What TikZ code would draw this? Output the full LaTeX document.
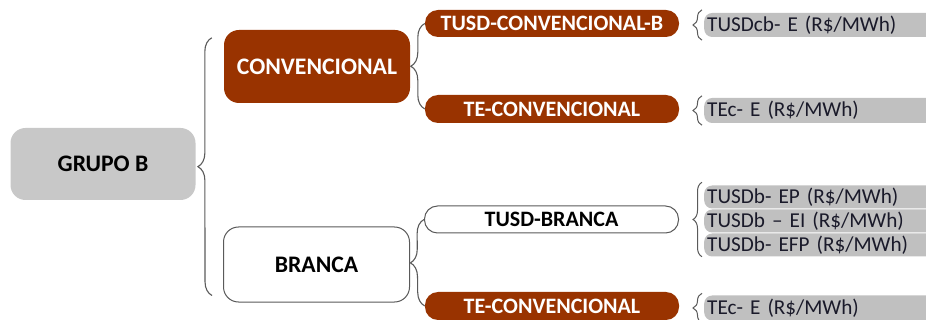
\documentclass[tikz,border=0pt]{standalone}
\usepackage{fontspec}
\setmainfont{Carlito}
\usetikzlibrary{decorations.pathreplacing}
\definecolor{brown1}{HTML}{993300}
\definecolor{gray1}{HTML}{C8C8C8}
\definecolor{gray2}{HTML}{C0C0C0}
\definecolor{line1}{HTML}{5A5A5A}
\definecolor{txt1}{HTML}{1A1A2A}
\tikzset{
  bigbox/.style={rounded corners=15pt, minimum width=186pt, minimum height=73pt, inner sep=0pt, font=\fontsize{23.7}{25}\selectfont\bfseries},
  pill/.style={rounded corners=13pt, minimum width=254pt, minimum height=27pt, inner sep=0pt, font=\fontsize{22}{24}\selectfont\bfseries},
  brownfill/.style={fill=brown1, text=white},
  whitefill/.style={fill=white, draw=line1, line width=1pt, text=black},
  leaf/.style={fill=gray2, rounded corners=8pt, minimum width=240pt, minimum height=23pt, inner sep=0pt, anchor=west, text width=234pt, align=left, text=txt1, font=\fontsize{21.2}{22}\selectfont},
  bigbrace/.style={decorate, decoration={brace, amplitude=14pt}, draw=line1, line width=1.1pt},
  smallbrace/.style={decorate, decoration={brace, amplitude=9pt}, draw=line1, line width=1pt},
}
\begin{document}
\begin{tikzpicture}[x=1pt, y=-1pt]
\useasboundingbox (0,0) rectangle (926,320);
\clip (0,0) rectangle (926,320);
% level 0
\node[bigbox, fill=gray1, minimum width=185pt, minimum height=72pt, text=black] (grupo) at (103,164) {GRUPO B};
% level 1
\node[bigbox, brownfill] (conv) at (317,66.5) {CONVENCIONAL};
\node[bigbox, whitefill, minimum height=75pt] (branca) at (316.5,264.5) {BRANCA};
% level 2
\node[pill, brownfill] (tusdcb) at (552,23.5) {TUSD-CONVENCIONAL-B};
\node[pill, brownfill, minimum height=28pt] (tec1) at (552,109) {TE-CONVENCIONAL};
\node[pill, whitefill] (tusdb) at (551.5,219.5) {TUSD-BRANCA};
\node[pill, brownfill, minimum height=28pt] (tec2) at (552,306) {TE-CONVENCIONAL};
% level 3
\node[leaf, minimum height=24pt] (g1) at (704,25) {TUSDcb- E (R\$/MWh)};
\node[leaf, minimum height=25pt] (g2) at (704,110.5) {TEc- E (R\$/MWh)};
\node[leaf] (g3) at (704,197) {TUSDb- EP (R\$/MWh)};
\node[leaf] (g4) at (704,221) {TUSDb -- EI (R\$/MWh)};
\node[leaf] (g5) at (704,245) {TUSDb- EFP (R\$/MWh)};
\node[leaf, minimum height=25pt] (g6) at (704,308) {TEc- E (R\$/MWh)};
% braces
\draw[bigbrace] ([shift={(-11pt,7pt)}]branca.south west) -- ([shift={(-12pt,-8pt)}]conv.north west);
\draw[bigbrace] (tec1.west) -- (tusdcb.west);
\draw[bigbrace] (tec2.west) -- (tusdb.west);
\draw[smallbrace] ([shift={(-2pt,-3pt)}]g1.south west) -- ([shift={(-2pt,3pt)}]g1.north west);
\draw[smallbrace] ([shift={(-2pt,-2pt)}]g2.south west) -- ([shift={(-2pt,2pt)}]g2.north west);
\draw[smallbrace] ([shift={(-2pt,0pt)}]g5.south west) -- ([shift={(-2pt,3pt)}]g3.north west);
\draw[smallbrace] ([shift={(-2pt,-2pt)}]g6.south west) -- ([shift={(-2pt,2pt)}]g6.north west);
\end{tikzpicture}
\end{document}
